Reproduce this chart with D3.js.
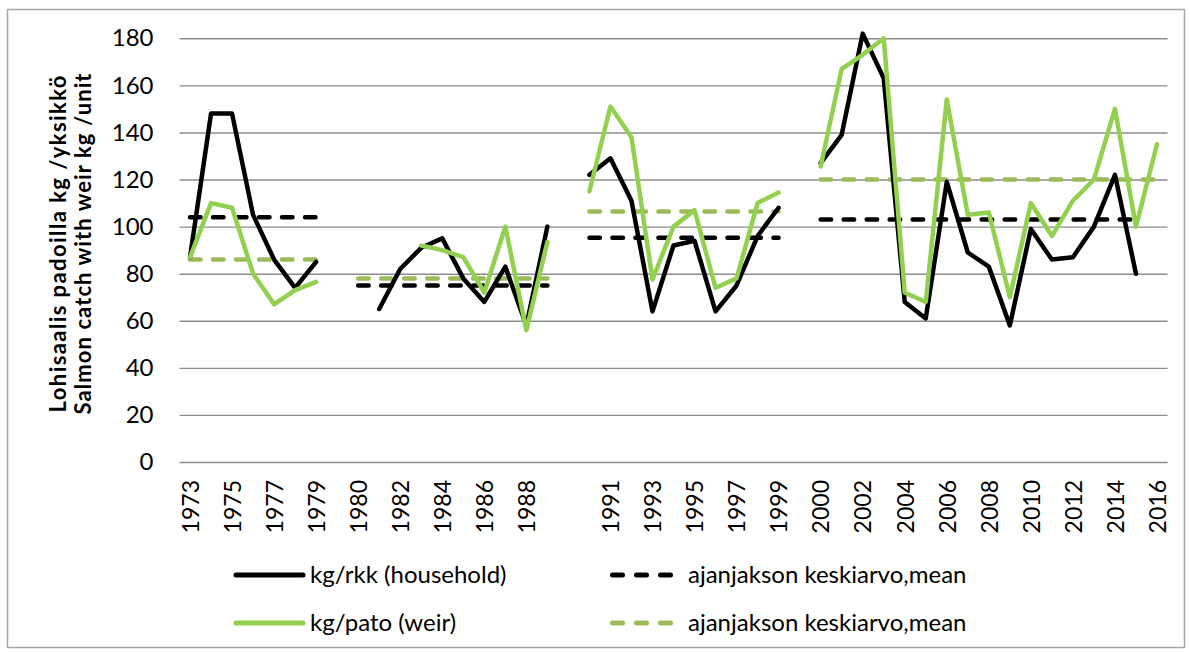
<!DOCTYPE html>
<html>
<head>
  <meta charset="utf-8">
  <script src="https://d3js.org/d3.v7.min.js"></script>
  <style>
    body {
      margin: 0;
      background: #fff;
      font-family: 'Lato', sans-serif;
    }
    svg { display: block; }
  </style>
</head>
<body>
<script>
  "use strict";

  //categories ("" = empty slot between the periods)
  var years = ["1973","1974","1975","1976","1977","1978","1979","",
    "1980","1981","1982","1983","1984","1985","1986","1987","1988","1989","",
    "1990","1991","1992","1993","1994","1995","1996","1997","1998","1999","",
    "2000","2001","2002","2003","2004","2005","2006","2007","2008","2009",
    "2010","2011","2012","2013","2014","2015","2016"];

  //kg/rkk (household)
  var household = [87,148,148,105,86,74,85,null,
    null,65,82,91,95,78,68,83,58,100,null,
    122,129,111,64,92,94,64,75,96,108,null,
    127,139,182,163,68,61,119,89,83,58,99,86,87,100,122,80,null];

  //kg/pato (weir)
  var weir = [87,110,108,80,67,73,76.5,null,
    null,null,null,92,90,87,72,100,56,93.5,null,
    115,151,138,77.5,100,107,74,78,110,114.5,null,
    125.5,167,173,180,72,68,154,105,106,70,110,96,111,120,150,100,135];

  //period means
  var householdMean = [104,104,104,104,104,104,104,null,
    75,75,75,75,75,75,75,75,75,75,null,
    95.3,95.3,95.3,95.3,95.3,95.3,95.3,95.3,95.3,95.3,null,
    103,103,103,103,103,103,103,103,103,103,103,103,103,103,103,103,null];

  var weirMean = [86,86,86,86,86,86,86,null,
    78,78,78,78,78,78,78,78,78,78,null,
    106.4,106.4,106.4,106.4,106.4,106.4,106.4,106.4,106.4,106.4,null,
    120,120,120,120,120,120,120,120,120,120,120,120,120,120,120,120,120];

  var yTicks = [0,20,40,60,80,100,120,140,160,180];

  var width = 1190, height = 652;
  var plotLeft = 179.5, plotRight = 1167.5, plotTop = 38.3, plotBottom = 462;

  var svg = d3.select("body").append("svg")
      .attr("width", width)
      .attr("height", height);

  //chart frame
  svg.append("rect")
      .attr("x", 7.5).attr("y", 9.5)
      .attr("width", 1177).attr("height", 638)
      .attr("fill", "none")
      .attr("stroke", "#a6a6a6")
      .attr("stroke-width", 1.5);

  //scales
  var x = d3.scalePoint()
      .domain(d3.range(years.length))
      .range([plotLeft, plotRight])
      .padding(0.5);

  var y = d3.scaleLinear()
      .domain([0, 180])
      .range([plotBottom, plotTop]);

  //gridlines + y labels
  var yAxis = svg.append("g")
      .attr("transform", "translate(" + plotLeft + ",0)")
      .call(d3.axisLeft(y)
        .tickValues(yTicks)
        .tickSize(-(plotRight - plotLeft))
        .tickPadding(26));
  yAxis.select(".domain").remove();
  yAxis.selectAll("line")
      .attr("stroke", "#8c8c8c")
      .attr("stroke-width", 1.4);
  yAxis.selectAll("text")
      .attr("fill", "#000")
      .style("font-family", "Lato, sans-serif")
      .style("font-size", "24px");

  //x labels (every other category, rotated)
  var xAxis = svg.append("g")
      .attr("transform", "translate(0," + plotBottom + ")")
      .call(d3.axisBottom(x)
        .tickValues(d3.range(0, years.length, 2))
        .tickFormat(function(i) { return years[i]; })
        .tickSize(0));
  xAxis.select(".domain").remove();
  xAxis.selectAll("text")
      .attr("fill", "#000")
      .style("font-family", "Lato, sans-serif")
      .style("font-size", "23px")
      .attr("text-anchor", "end")
      .attr("x", -18)
      .attr("y", 0)
      .attr("dy", "0.36em")
      .attr("transform", "rotate(-90)");

  //y title, two lines
  var titleY = 244;
  var titleLines = [
    {text: "Lohisaalis padoilla kg /yksikkö", x: 66, len: 337},
    {text: "Salmon catch with weir kg /unit", x: 91, len: 341}
  ];
  titleLines.forEach(function(t) {
    svg.append("text")
      .attr("transform", "translate(" + t.x + "," + titleY + ") rotate(-90)")
      .attr("text-anchor", "middle")
      .attr("textLength", t.len)
      .attr("lengthAdjust", "spacing")
      .style("font-weight", "bold")
      .style("font-size", "22px")
      .text(t.text);
  });

  //lines
  function lineFor(values) {
    return d3.line()
      .defined(function(d) { return d != null; })
      .x(function(d, i) { return x(i); })
      .y(function(d) { return y(d); })(values);
  }

  var series = [
    {values: householdMean, color: "#000000", dash: "10.5,12.5"},
    {values: weirMean, color: "#9bbb59", dash: "10.5,12.5"},
    {values: household, color: "#000000", dash: null},
    {values: weir, color: "#92d050", dash: null}
  ];

  series.forEach(function(s) {
    svg.append("path")
      .attr("d", lineFor(s.values))
      .attr("fill", "none")
      .attr("stroke", s.color)
      .attr("stroke-width", 4.5)
      .attr("stroke-linejoin", "round")
      .attr("stroke-linecap", "round")
      .attr("stroke-dasharray", s.dash);
  });

  //legend
  var legendItems = [
    {label: "kg/rkk (household)", color: "#000000", dash: null, x: 236, y: 575},
    {label: "ajanjakson keskiarvo,mean", color: "#000000", dash: "10,14", x: 612.5, y: 575},
    {label: "kg/pato (weir)", color: "#92d050", dash: null, x: 236, y: 623},
    {label: "ajanjakson keskiarvo,mean", color: "#9bbb59", dash: "10,14", x: 612.5, y: 623}
  ];

  var legend = svg.append("g").attr("class", "legend");
  legendItems.forEach(function(d) {
    var len = d.dash ? 58 : 67;
    legend.append("line")
      .attr("x1", d.x).attr("x2", d.x + len)
      .attr("y1", d.y).attr("y2", d.y)
      .attr("stroke", d.color)
      .attr("stroke-width", 5)
      .attr("stroke-linecap", "round")
      .attr("stroke-dasharray", d.dash);
    legend.append("text")
      .attr("x", d.dash ? 688 : 310)
      .attr("y", d.y + 8)
      .style("font-size", "24px")
      .text(d.label);
  });
</script>
</body>
</html>
